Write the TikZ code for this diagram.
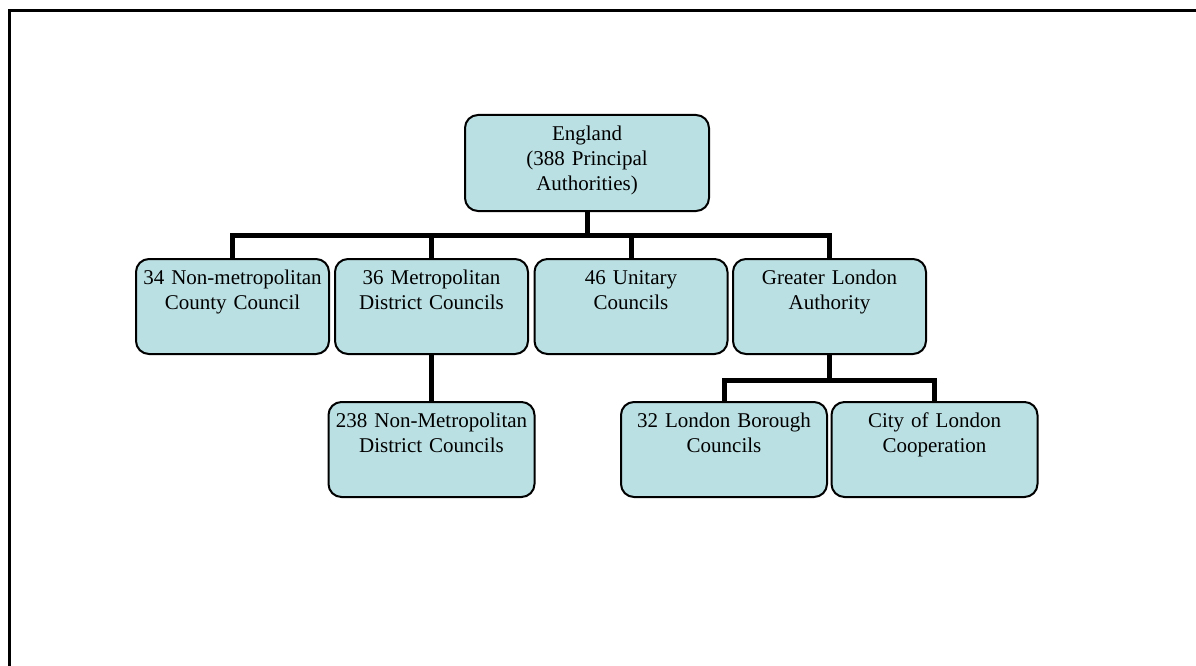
\documentclass[tikz,border=0pt]{standalone}
\usepackage{fontspec}
\setmainfont{Liberation Serif}
\usepackage{tikz}

\definecolor{boxfill}{HTML}{BBE0E3}

\begin{document}
\begin{tikzpicture}[x=1pt, y=-1pt,
			      every node/.style={rectangle, draw, rounded corners=13pt, line width=2pt,
			        fill=boxfill, align=center, inner sep=4pt, text height=21pt,
			        font=\fontsize{21}{25}\selectfont},
			      rootbox/.style={text width=236pt, text depth=67pt},
			      level one/.style={text width=185pt, text depth=66pt},
			      level two/.style={text width=198pt, text depth=66pt},
			      bar/.style={line width=5pt}]
		      \useasboundingbox (0,0) rectangle (1196,666);
		      % frame
		      \draw[line width=3pt] (9,666) -- (9,11) -- (1196,11);
		      % boxes
		      \node[rootbox] (england) at (587,163) {England\\(388 Principal\\Authorities)};
		      \node[level one] (county) at (232.5,306.5) {34 Non-metropolitan\\County Council};
		      \node[level one] (metro) at (431.5,306.5) {36 Metropolitan\\District Councils};
		      \node[level one] (unitary) at (631,306.5) {46 Unitary\\Councils};
		      \node[level one] (gla) at (829.5,306.5) {Greater London\\Authority};
		      \node[level two] (nonmetro) at (431.5,449.5) {238 Non-Metropolitan\\District Councils};
		      \node[level two] (borough) at (724,449.5) {32 London Borough\\Councils};
		      \node[level two] (city) at (934.5,449.5) {City of London\\Cooperation};
		      % connectors
		      \coordinate (bus) at (587,235);
		      \coordinate (londonbus) at (829.5,380);
		      \draw[bar] (england.south) -- (bus);
		      \draw[bar] (bus) -| (county.north);
		      \draw[bar] (bus) -| (metro.north);
		      \draw[bar] (bus) -| (unitary.north);
		      \draw[bar] (bus) -| (gla.north);
		      \draw[bar] (metro.south) -- (nonmetro.north);
		      \draw[bar] (gla.south) -- (londonbus);
		      \draw[bar] (londonbus) -| (borough.north);
		      \draw[bar] (londonbus) -| (city.north);
	      \end{tikzpicture}
\end{document}
